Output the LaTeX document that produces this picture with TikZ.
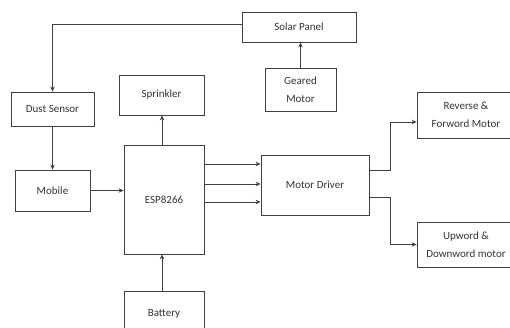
\documentclass[tikz,border=0pt]{standalone}
\usepackage{fontspec}
\setmainfont{Carlito}
\usetikzlibrary{arrows.meta}

\begin{document}
\begin{tikzpicture}[x=1pt,y=-1pt,>={Stealth[length=5pt,width=4.5pt]},line width=0.8pt]
\tikzstyle{block}=[draw=black!75,rectangle,align=center,text=black!80,inner sep=0pt,font=\fontsize{11}{17.5}\selectfont]
\tikzstyle{line}=[draw=black!75]
\useasboundingbox (0,0) rectangle (510,328);
\node[block,minimum width=114,minimum height=30] (solar) at (299,27) {Solar Panel};
\node[block,minimum width=71,minimum height=43] (geared) at (300.5,89.5) {Geared\\Motor};
\node[block,minimum width=83,minimum height=34] (dust) at (52.5,109) {Dust Sensor};
\node[block,minimum width=75,minimum height=41] (mobile) at (52.5,190.5) {Mobile};
\node[block,minimum width=85,minimum height=40] (sprinkler) at (161.5,95) {Sprinkler};
\node[block,minimum width=80,minimum height=109] (esp) at (164,199.5) {ESP8266};
\node[block,minimum width=80,minimum height=46] (battery) at (164,314) {Battery};
\node[block,minimum width=108,minimum height=60] (driver) at (315,185) {Motor Driver};
\node[block,minimum width=98,minimum height=46] (reverse) at (466,115) {Reverse \&\\Forword Motor};
\node[block,minimum width=98,minimum height=45] (updown) at (466,244.5) {Upword \&\\Downword motor};
% connectors
\draw[line,->] ([yshift=3pt]solar.west) -| (dust.north);
\draw[line,->] (geared.north) -- (geared.north |- solar.south);
\draw[line,->] (dust) -- (mobile);
\draw[line,->] (mobile) -- (mobile -| esp.west);
\draw[line,->] ([xshift=-2pt]esp.north) -- ([xshift=-2pt]esp.north |- sprinkler.south);
\draw[line,->] ([xshift=-2pt]battery.north) -- ([xshift=-2pt]battery.north |- esp.south);
\foreach \dy [count=\i] in {21,1,-17} {
  \coordinate (d\i) at ([yshift=\dy pt]driver.west);
  \draw[line,->] (esp.east |- d\i) -- (d\i);
}
\draw[line,->] ([yshift=15pt]driver.east) -- ++(21,0) |- ([yshift=-7pt]reverse.west);
\draw[line,->] ([yshift=-12pt]driver.east) -- ++(21,0) |- (updown.west);
\end{tikzpicture}
\end{document}
